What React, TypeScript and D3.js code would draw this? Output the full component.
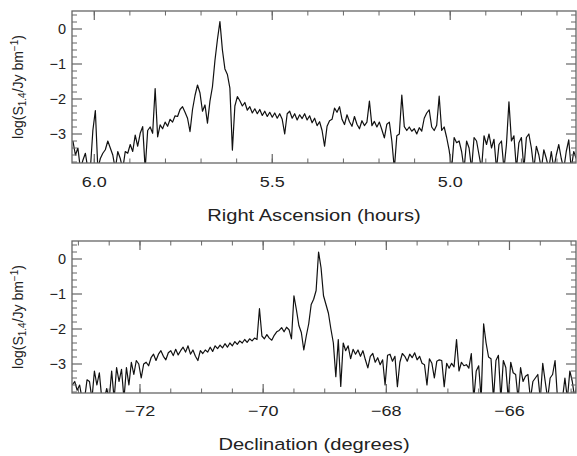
import React from "react";
import * as d3 from "d3";

// ---- data ----
const raStart = 6.06; // hours
const raStep = 0.007;
const raFlux = [
  -3.2, -3.6, -3.4, -4, -3.75, -3.55, -4, -4, -2.9, -2.33,
  -4, -3.7, -3.55, -3.45, -3.2, -3.4, -3.6, -4, -3.5, -3.7,
  -4, -3.5, -3.55, -3.3, -3.5, -3.03, -3.35, -2.98, -2.79, -4,
  -2.9, -2.8, -2.98, -1.7, -3.08, -2.74, -2.85, -2.66, -2.78, -2.58,
  -2.66, -2.48, -2.5, -2.3, -2.22, -2.38, -2.55, -2.93, -2.3, -1.9,
  -1.6, -1.83, -2.35, -2.17, -2.69, -2.06, -1.65, -0.9, -0.3, 0.21,
  -0.6, -1.14, -1.3, -1.69, -3.46, -2.2, -1.93, -2.05, -2.2, -2.1,
  -2.32, -2.22, -2.4, -2.28, -2.42, -2.3, -2.47, -2.35, -2.5, -2.38,
  -2.52, -2.4, -2.55, -2.42, -2.58, -3.0, -2.42, -2.35, -2.55, -2.42,
  -2.6, -2.45, -2.56, -2.42, -2.6, -2.48, -2.68, -2.55, -2.76, -2.65,
  -2.9, -3.35, -2.78, -2.62, -2.58, -2.26, -2.38, -2.22, -2.58, -2.73,
  -2.45, -2.65, -2.78, -2.5, -2.72, -2.85, -2.62, -2.76, -2.66, -2.06,
  -2.76, -2.64, -2.8, -2.66, -2.88, -3.11, -2.72, -2.66, -3.2, -4,
  -3.05, -3.0, -1.89, -2.79, -2.9, -2.8, -2.92, -2.85, -3.0, -2.82,
  -2.92, -2.55, -2.4, -2.31, -2.8, -2.9, -2.75, -1.92, -2.9, -2.8,
  -3.1, -3.46, -4, -3.1, -3.25, -3.2, -3.5, -4, -3.2, -3.4,
  -4, -3.1, -3.2, -3.6, -4, -3.05, -3.3, -3.0, -3.4, -3.15,
  -4, -3.3, -3.2, -4, -3.3, -2.08, -3.2, -3.05, -4, -3.25,
  -3.1, -4, -3.1, -3.0, -3.4, -4, -3.35, -3.6, -4, -3.45,
  -3.7, -4, -3.5, -4, -3.6, -3.3, -3.7, -4, -3.5, -3.17,
  -4, -3.5, -3.7,
];

const decStart = -73.1; // degrees
const decStep = 0.04;
const decFlux = [
  -3.6, -3.5, -3.75, -3.6, -4, -4, -3.45, -3.5, -4, -3.2,
  -3.6, -3.25, -4, -4, -3.7, -4, -3.2, -4, -3.1, -3.5,
  -3.15, -4, -3.1, -3.6, -2.95, -3.3, -2.9, -3.0, -3.4, -3.0,
  -2.95, -3.05, -2.82, -2.72, -2.9, -2.72, -2.62, -2.78, -2.88, -2.68,
  -2.62, -2.76, -2.58, -2.74, -2.62, -2.52, -2.66, -2.48, -2.72, -2.6,
  -2.78, -2.9, -2.62, -2.7, -2.6, -2.66, -2.52, -2.64, -2.48, -2.56,
  -2.46, -2.54, -2.42, -2.52, -2.4, -2.48, -2.36, -2.44, -2.34, -2.4,
  -2.3, -2.38, -2.28, -2.34, -2.26, -2.3, -1.42, -2.2, -2.28, -2.16,
  -2.26, -2.32, -2.18, -2.08, -2.04, -1.96, -2.08, -1.95, -2.02, -2.28,
  -1.05, -1.45, -1.9, -2.1, -2.6, -2.2, -1.85, -1.3, -1.15, -0.9,
  0.2, -0.25, -1.05, -1.3, -1.55, -2.0, -2.4, -3.36, -2.3, -3.64,
  -2.4, -2.62, -2.48, -2.85, -2.58, -2.72, -2.6, -2.78, -2.62, -2.88,
  -3.11, -2.78, -2.7, -2.95, -2.82, -3.02, -2.88, -3.6, -2.75, -2.72,
  -2.92, -2.78, -3.65, -2.95, -2.7, -2.78, -2.92, -2.72, -2.82, -2.68,
  -2.88, -2.78, -2.98, -3.02, -3.6, -2.85, -2.98, -3.4, -2.92, -2.88,
  -2.9, -3.65, -2.98, -3.12, -2.98, -3.08, -2.3, -3.2, -2.95, -3.05,
  -3.02, -3.12, -2.7, -4, -3.2, -3.05, -4, -1.85, -2.4, -2.8,
  -2.85, -4, -2.9, -2.75, -4, -2.9, -3.1, -4, -2.95, -3.25,
  -3.3, -4, -3.1, -3.5, -3.35, -3.3, -4, -3.5, -3.4, -3.3,
  -4, -2.98, -3.5, -4, -3.4, -3.3, -2.9, -4, -4, -4,
  -3.4, -4, -3.2, -3.5, -4, -3.5,
];

const yMajor = [0, -1, -2, -3];
const yMinor = [0.4, 0.2, -0.2, -0.4, -0.6, -0.8, -1.2, -1.4, -1.6, -1.8, -2.2, -2.4, -2.6, -2.8, -3.2, -3.4, -3.6, -3.8];
const raMajor = [6.0, 5.5, 5.0];
const raMinor = [6.0, 5.9, 5.8, 5.7, 5.6, 5.5, 5.4, 5.3, 5.2, 5.1, 5.0, 4.9, 4.8, 4.7];
const decMajor = [-72, -70, -68, -66];
const decMinor = [-73, -72.5, -72, -71.5, -71, -70.5, -70, -69.5, -69, -68.5, -68, -67.5, -67, -66.5, -66, -65.5, -65];

const fmtY = (v: number) => (v < 0 ? "\u2212" + Math.abs(v) : String(v));
const fmtRA = (v: number) => v.toFixed(1);
const fmtDec = (v: number) => (v < 0 ? "\u2212" + Math.abs(v) : String(v));

const L = 72;
const R = 576;
const FRAME = "#666";
const FONT = "'Liberation Sans', Arial, Helvetica, sans-serif";

type PanelProps = {
  id: string;
  top: number;
  bottom: number;
  xDomain: [number, number];
  start: number;
  step: number;
  values: number[];
  major: number[];
  minor: number[];
  fmtX: (v: number) => string;
  title: string;
  titleY: number;
  labelY: number;
};

function Panel(p: PanelProps) {
  const x = d3.scaleLinear().domain(p.xDomain).range([L, R]);
  const zeroY = p.top + 18;
  const k = 35;
  const y = d3
    .scaleLinear()
    .domain([(zeroY - p.bottom) / k, (zeroY - p.top) / k])
    .range([p.bottom, p.top]);
  const pts: [number, number][] = p.values.map((v, i) => [p.start + p.step * i, v]);
  const line = d3
    .line<[number, number]>()
    .x((d) => x(d[0]))
    .y((d) => y(d[1]));
  const midY = (p.top + p.bottom) / 2;
  return (
    <g>
      <defs>
        <clipPath id={p.id}>
          <rect x={L} y={p.top} width={R - L} height={p.bottom - p.top} />
        </clipPath>
      </defs>
      <path d={line(pts) || ""} fill="none" stroke="#111" strokeWidth={1.2} clipPath={`url(#${p.id})`} strokeLinejoin="round" />
      <rect x={L} y={p.top} width={R - L} height={p.bottom - p.top} fill="none" stroke={FRAME} strokeWidth={1.3} />
      {yMajor.map((v) => (
        <g key={"ym" + v}>
          <line x1={L} x2={L + 10} y1={y(v)} y2={y(v)} stroke={FRAME} strokeWidth={1.2} />
          <line x1={R} x2={R - 10} y1={y(v)} y2={y(v)} stroke={FRAME} strokeWidth={1.2} />
          <text x={66} y={y(v) + 5} textAnchor="end" fontSize={14.5} fontFamily={FONT} fill="#222">
            {fmtY(v)}
          </text>
        </g>
      ))}
      {yMinor.map((v) => (
        <g key={"yn" + v}>
          <line x1={L} x2={L + 5} y1={y(v)} y2={y(v)} stroke={FRAME} strokeWidth={1} />
          <line x1={R} x2={R - 5} y1={y(v)} y2={y(v)} stroke={FRAME} strokeWidth={1} />
        </g>
      ))}
      {p.minor.map((v) => (
        <g key={"xn" + v}>
          <line x1={x(v)} x2={x(v)} y1={p.top} y2={p.top + 4.5} stroke={FRAME} strokeWidth={1} />
          <line x1={x(v)} x2={x(v)} y1={p.bottom} y2={p.bottom - 4.5} stroke={FRAME} strokeWidth={1} />
        </g>
      ))}
      {p.major.map((v) => (
        <g key={"xm" + v}>
          <line x1={x(v)} x2={x(v)} y1={p.top} y2={p.top + 9} stroke={FRAME} strokeWidth={1.2} />
          <line x1={x(v)} x2={x(v)} y1={p.bottom} y2={p.bottom - 9} stroke={FRAME} strokeWidth={1.2} />
          <text
            transform={`translate(${x(v)},${p.labelY}) scale(1.2,1)`}
            textAnchor="middle"
            fontSize={15}
            fontFamily={FONT}
            fill="#222"
          >
            {p.fmtX(v)}
          </text>
        </g>
      ))}
      <text
        transform={`translate(314,${p.titleY}) scale(1.22,1)`}
        textAnchor="middle"
        fontSize={16.5}
        fontFamily={FONT}
        fill="#222"
      >
        {p.title}
      </text>
      <text
        transform={`translate(23,${midY}) rotate(-90)`}
        textAnchor="middle"
        fontSize={14}
        fontFamily={FONT}
        fill="#222"
      >
        log(S
        <tspan fontSize={10} dy={3}>1.4</tspan>
        <tspan dy={-3}>/Jy bm</tspan>
        <tspan fontSize={10} dy={-5}>{"\u22121"}</tspan>
        <tspan dy={5}>)</tspan>
      </text>
    </g>
  );
}

export default function App() {
  return (
    <svg
      width={577}
      height={456}
      style={{ position: "absolute", left: 0, top: 0, background: "#fff" }}
    >
      <rect x={0} y={0} width={577} height={456} fill="#fff" />
      <Panel
        id="clipTop"
        top={11}
        bottom={163}
        xDomain={[6.0626, 4.6466]}
        start={raStart}
        step={-raStep}
        values={raFlux}
        major={raMajor}
        minor={raMinor}
        fmtX={fmtRA}
        title="Right Ascension (hours)"
        titleY={221}
        labelY={187}
      />
      <Panel
        id="clipBot"
        top={241}
        bottom={393}
        xDomain={[-73.104, -64.92]}
        start={decStart}
        step={decStep}
        values={decFlux}
        major={decMajor}
        minor={decMinor}
        fmtX={fmtDec}
        title="Declination (degrees)"
        titleY={450}
        labelY={416}
      />
    </svg>
  );
}
